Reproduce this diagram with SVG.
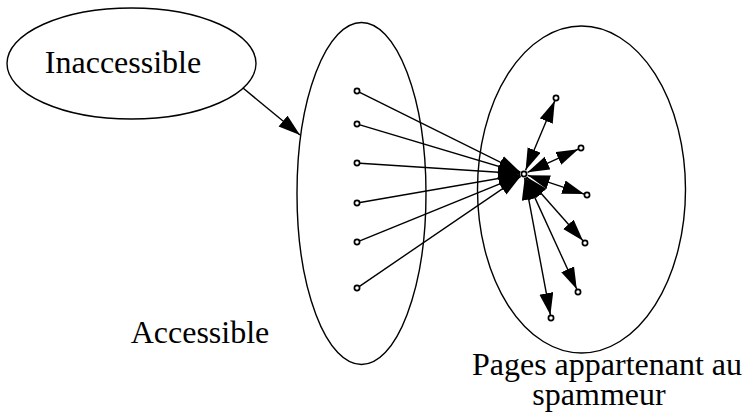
<svg xmlns="http://www.w3.org/2000/svg" width="744" height="417" viewBox="0 0 744 417">
<style>
.shape{fill:none;stroke:#000;stroke-width:1.4}
.lbl{font-family:"Liberation Serif","Times New Roman",serif;font-size:32px;fill:#000}
.edge{stroke:#000;stroke-width:1.4;fill:none}
.uni{marker-end:url(#ah)}
.bi{marker-start:url(#ah);marker-end:url(#ah)}
.pt{fill:#fff;stroke:#000;stroke-width:1.7}
</style>
<defs>
<marker id="ah" markerUnits="userSpaceOnUse" markerWidth="24" markerHeight="16" refX="22" refY="7" orient="auto-start-reverse" viewBox="0 0 24 16">
<path d="M0,0 L22,7 L0,14 z" fill="#000"/>
</marker>
</defs>
<rect width="744" height="417" fill="#fff"/>
<g id="inaccessible">
<ellipse class="shape" cx="131.5" cy="63.5" rx="124.5" ry="55.5"/>
<text class="lbl" x="123" y="73" text-anchor="middle">Inaccessible</text>
</g>
<g id="accessible">
<ellipse class="shape" cx="361.5" cy="193.5" rx="64.5" ry="171"/>
<text class="lbl" x="200" y="343" text-anchor="middle">Accessible</text>
</g>
<g id="spammeur">
<ellipse class="shape" cx="581.5" cy="189.5" rx="104" ry="163.5"/>
<text class="lbl" x="607" y="375" text-anchor="middle">Pages appartenant au</text>
<text class="lbl" x="599" y="405" text-anchor="middle">spammeur</text>
</g>
<g id="connectors">
<line class="edge uni" x1="243" y1="88" x2="300" y2="135"/>
<line class="edge uni" x1="359.7" y1="92.3" x2="520.4" y2="172.2"/>
<line class="edge uni" x1="359.9" y1="124.9" x2="520.2" y2="172.9"/>
<line class="edge uni" x1="360" y1="163.2" x2="520" y2="173.7"/>
<line class="edge uni" x1="360" y1="202.5" x2="520.1" y2="174.7"/>
<line class="edge uni" x1="359.8" y1="240.9" x2="520.3" y2="175.5"/>
<line class="edge uni" x1="359.5" y1="286.3" x2="520.7" y2="176.3"/>
<line class="edge bi" x1="525.6" y1="170.3" x2="554.8" y2="100.8"/>
<line class="edge bi" x1="527.6" y1="172.3" x2="578.3" y2="149.2"/>
<line class="edge bi" x1="527.8" y1="175.3" x2="584.2" y2="194.1"/>
<line class="edge bi" x1="526.6" y1="177" x2="583" y2="240.8"/>
<line class="edge bi" x1="525.7" y1="177.6" x2="576.8" y2="289.3"/>
<line class="edge bi" x1="524.7" y1="177.9" x2="550.4" y2="315"/>
</g>
<g id="points">
<g id="a1"><circle class="pt" cx="357" cy="91" r="2.6"/></g>
<g id="a2"><circle class="pt" cx="357" cy="124" r="2.6"/></g>
<g id="a3"><circle class="pt" cx="357" cy="163" r="2.6"/></g>
<g id="a4"><circle class="pt" cx="357" cy="203" r="2.6"/></g>
<g id="a5"><circle class="pt" cx="357" cy="242" r="2.6"/></g>
<g id="a6"><circle class="pt" cx="357" cy="288" r="2.6"/></g>
<g id="target"><circle class="pt" cx="524" cy="174" r="2.6"/></g>
<g id="s1"><circle class="pt" cx="556" cy="98" r="2.6"/></g>
<g id="s2"><circle class="pt" cx="581" cy="148" r="2.6"/></g>
<g id="s3"><circle class="pt" cx="587" cy="195" r="2.6"/></g>
<g id="s4"><circle class="pt" cx="585" cy="243" r="2.6"/></g>
<g id="s5"><circle class="pt" cx="578" cy="292" r="2.6"/></g>
<g id="s6"><circle class="pt" cx="551" cy="318" r="2.6"/></g>
</g>
</svg>
